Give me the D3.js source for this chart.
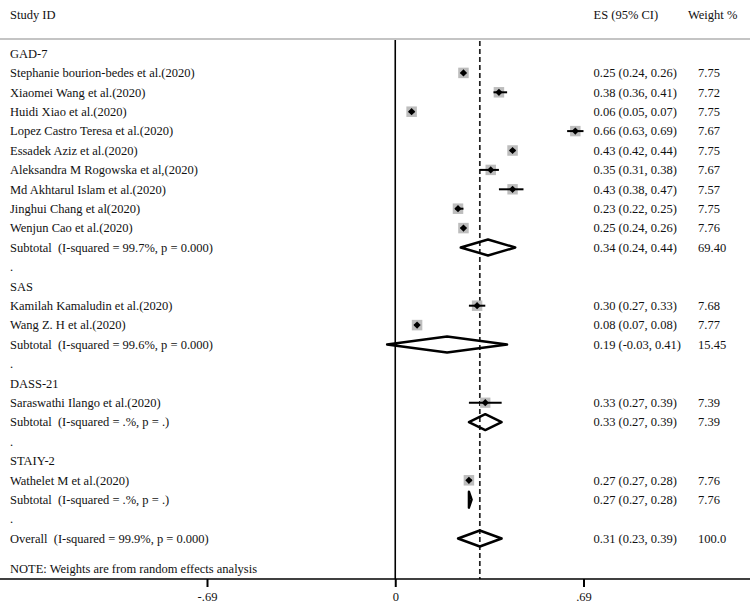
<!DOCTYPE html>
<html>
<head>
<meta charset="utf-8">
<script src="https://cdn.jsdelivr.net/npm/d3@7"></script>
<style>
  html, body { margin: 0; padding: 0; background: #fff; }
  svg { display: block; }
  text { font-family: "Liberation Serif", "Times New Roman", serif; font-size: 12.5px; fill: #111; white-space: pre; }
</style>
</head>
<body>
<svg id="chart" width="750" height="613"></svg>
<script>
// ---------- DATA ----------
const rowLabels = [
  "GAD-7",
  "Stephanie bourion-bedes et al.(2020)",
  "Xiaomei Wang et al.(2020)",
  "Huidi Xiao et al.(2020)",
  "Lopez Castro Teresa et al.(2020)",
  "Essadek Aziz et al.(2020)",
  "Aleksandra M Rogowska et al,(2020)",
  "Md Akhtarul Islam et al.(2020)",
  "Jinghui Chang et al(2020)",
  "Wenjun Cao et al.(2020)",
  "Subtotal  (I-squared = 99.7%, p = 0.000)",
  ".",
  "SAS",
  "Kamilah Kamaludin et al.(2020)",
  "Wang Z. H et al.(2020)",
  "Subtotal  (I-squared = 99.6%, p = 0.000)",
  ".",
  "DASS-21",
  "Saraswathi Ilango et al.(2020)",
  "Subtotal  (I-squared = .%, p = .)",
  ".",
  "STAIY-2",
  "Wathelet M et al.(2020)",
  "Subtotal  (I-squared = .%, p = .)",
  ".",
  "Overall  (I-squared = 99.9%, p = 0.000)"
];
// "h" header, "s" study, "d" pooled diamond, "b" blank spacer
const rowTypes = ["h","s","s","s","s","s","s","s","s","s","d","b",
                  "h","s","s","d","b","h","s","d","b","h","s","d","b","d"];
const esValues = [null,0.25,0.38,0.06,0.66,0.43,0.35,0.43,0.23,0.25,0.34,null,
                  null,0.30,0.08,0.19,null,null,0.33,0.33,null,null,0.27,0.27,null,0.31];
const ciLower  = [null,0.24,0.36,0.05,0.63,0.42,0.31,0.38,0.22,0.24,0.24,null,
                  null,0.27,0.07,-0.03,null,null,0.27,0.27,null,null,0.27,0.27,null,0.23];
const ciUpper  = [null,0.26,0.41,0.07,0.69,0.44,0.38,0.47,0.25,0.26,0.44,null,
                  null,0.33,0.08,0.41,null,null,0.39,0.39,null,null,0.28,0.28,null,0.39];
const esText = [null,"0.25 (0.24, 0.26)","0.38 (0.36, 0.41)","0.06 (0.05, 0.07)","0.66 (0.63, 0.69)",
  "0.43 (0.42, 0.44)","0.35 (0.31, 0.38)","0.43 (0.38, 0.47)","0.23 (0.22, 0.25)","0.25 (0.24, 0.26)",
  "0.34 (0.24, 0.44)",null,null,"0.30 (0.27, 0.33)","0.08 (0.07, 0.08)","0.19 (-0.03, 0.41)",null,null,
  "0.33 (0.27, 0.39)","0.33 (0.27, 0.39)",null,null,"0.27 (0.27, 0.28)","0.27 (0.27, 0.28)",null,
  "0.31 (0.23, 0.39)"];
const weightText = [null,"7.75","7.72","7.75","7.67","7.75","7.67","7.57","7.75","7.76","69.40",null,
  null,"7.68","7.77","15.45",null,null,"7.39","7.39",null,null,"7.76","7.76",null,"100.0"];
const weights = weightText.map(w => w === null ? null : +w);
const overallES = 0.31;
const tickValues = [-0.69, 0, 0.69];
const tickLabels = ["-.69", "0", ".69"];
const headerLabels = ["Study ID", "ES (95% CI)", "Weight %"];
const noteText = "NOTE: Weights are from random effects analysis";

// ---------- LAYOUT ----------
const svg = d3.select("#chart");
const W = 750;
const topLineY = 39, axisY = 579;
const x = d3.scaleLinear().domain([-0.69, 0.69]).range([207, 583.5]);
const y = d3.scaleLinear().domain([0, rowLabels.length - 1]).range([53.5, 538.5]);
const sqSide = d3.scaleSqrt().domain([0, 7.75]).range([0, 10.5]);
const labelX = 10, esX = 593.5, wtX = 698;

// header
svg.append("text").attr("x", labelX).attr("y", 15).attr("dy", "0.35em").text(headerLabels[0]);
svg.append("text").attr("x", esX).attr("y", 15).attr("dy", "0.35em").text(headerLabels[1]);
svg.append("text").attr("x", 688).attr("y", 15).attr("dy", "0.35em").text(headerLabels[2]);
svg.append("line").attr("x1", 0).attr("x2", W).attr("y1", topLineY).attr("y2", topLineY)
  .attr("stroke", "#c4c4c4").attr("stroke-width", 2);

// zero line
svg.append("line").attr("x1", x(0)).attr("x2", x(0)).attr("y1", topLineY + 1).attr("y2", axisY)
  .attr("stroke", "#000").attr("stroke-width", 1.6);
// overall dashed line
svg.append("line").attr("x1", x(overallES)).attr("x2", x(overallES)).attr("y1", topLineY + 2).attr("y2", axisY)
  .attr("stroke", "#222").attr("stroke-width", 1.7).attr("stroke-dasharray", "5,3");

const rows = rowLabels.map((l, i) => ({
  i, label: l, type: rowTypes[i], es: esValues[i], lo: ciLower[i], hi: ciUpper[i],
  esT: esText[i], wT: weightText[i], w: weights[i]
}));

// labels
svg.append("g").selectAll("text").data(rows).join("text")
  .attr("x", labelX).attr("y", d => y(d.i)).attr("dy", "0.35em").attr("xml:space", "preserve").text(d => d.label);
svg.append("g").selectAll("text").data(rows.filter(d => d.esT)).join("text")
  .attr("x", esX).attr("y", d => y(d.i)).attr("dy", "0.35em").text(d => d.esT);
svg.append("g").selectAll("text").data(rows.filter(d => d.wT)).join("text")
  .attr("x", wtX).attr("y", d => y(d.i)).attr("dy", "0.35em").text(d => d.wT);

// studies
const studies = rows.filter(d => d.type === "s");
const gS = svg.append("g");
gS.selectAll("rect").data(studies).join("rect")
  .attr("x", d => x(d.es) - sqSide(d.w) / 2)
  .attr("y", d => y(d.i) - sqSide(d.w) / 2)
  .attr("width", d => sqSide(d.w)).attr("height", d => sqSide(d.w))
  .attr("fill", "#bdbdbd");
gS.selectAll("line").data(studies).join("line")
  .attr("x1", d => x(d.lo)).attr("x2", d => x(d.hi))
  .attr("y1", d => y(d.i)).attr("y2", d => y(d.i))
  .attr("stroke", "#000").attr("stroke-width", 2);
gS.selectAll("path").data(studies).join("path")
  .attr("d", d => {
    const cx = x(d.es), cy = y(d.i), r = 3.6;
    return `M${cx},${cy - r}L${cx + r},${cy}L${cx},${cy + r}L${cx - r},${cy}Z`;
  })
  .attr("fill", "#000");

// pooled diamonds
const pooled = rows.filter(d => d.type === "d");
svg.append("g").selectAll("path").data(pooled).join("path")
  .attr("d", d => {
    const cy = y(d.i), h = 8;
    return `M${x(d.lo)},${cy}L${x(d.es)},${cy - h}L${x(d.hi)},${cy}L${x(d.es)},${cy + h}Z`;
  })
  .attr("fill", "none").attr("stroke", "#000").attr("stroke-width", 2.4)
  .attr("stroke-linejoin", "round");

// note
svg.append("text").attr("x", labelX).attr("y", 569).attr("dy", "0.35em").text(noteText);

// axis
svg.append("line").attr("x1", 0).attr("x2", W).attr("y1", axisY).attr("y2", axisY)
  .attr("stroke", "#000").attr("stroke-width", 1.6);
const axis = d3.axisBottom(x).tickValues(tickValues).tickSize(8)
  .tickFormat((d, i) => tickLabels[i]);
const gA = svg.append("g").attr("transform", `translate(0,${axisY})`).call(axis);
gA.select(".domain").remove();
gA.selectAll(".tick line").attr("stroke", "#000").attr("stroke-width", 2);
gA.selectAll(".tick text").attr("font-family", "Liberation Serif, serif")
  .attr("font-size", "12.5px").attr("fill", "#111").attr("y", 13);
</script>
</body>
</html>
